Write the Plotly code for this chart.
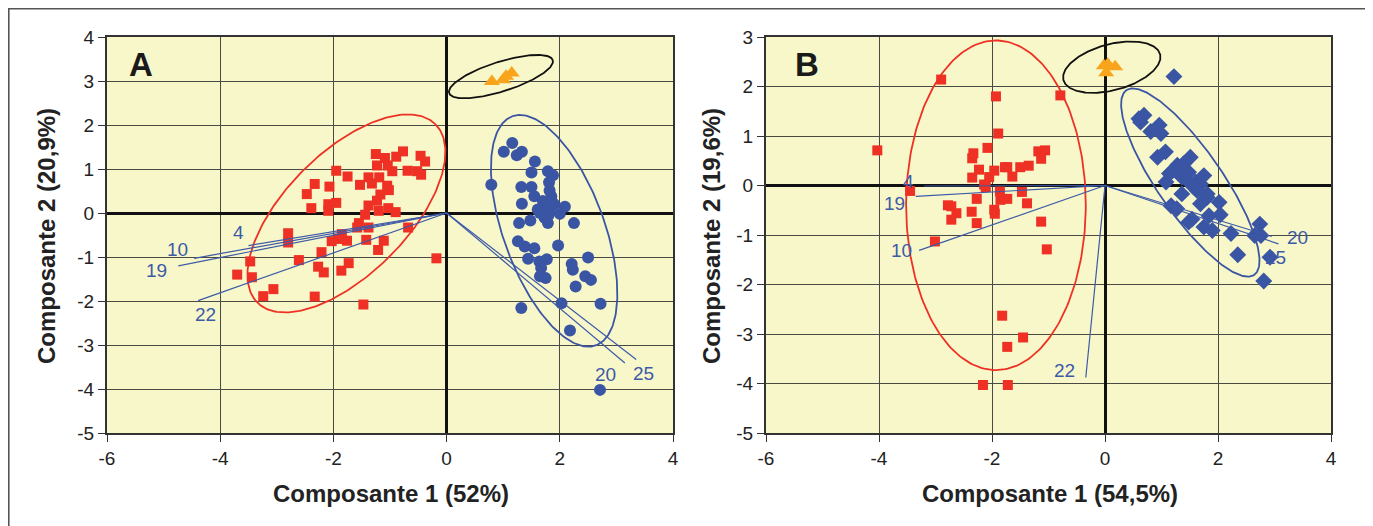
import numpy as np
import plotly.graph_objects as go

# ---------------- Panel A data ----------------
a_red_x = [-1.25, -1.09, -0.77, -0.89, -0.46, -0.38, -1.23, -1.04, -0.96, -0.69, -0.52, -0.45,
           -1.95, -1.75, -1.53, -1.38, -1.32, -1.19, -1.05, -1.02, -1.17, -1.23, -2.33, -2.07,
           -2.47, -2.39, -2.09, -2.09, -1.95, -1.38, -1.20, -1.03, -0.90, -1.44, -1.55, -1.38,
           -1.58, -0.68, -2.80, -2.80, -1.85, -2.03, -1.76, -1.91, -1.42, -1.11, -1.21, -2.21,
           -2.61, -3.47, -2.27, -2.17, -1.86, -1.73, -0.18, -3.70, -3.44, -3.06, -3.24, -2.33, -1.47]
a_red_y = [1.34, 1.25, 1.40, 1.28, 1.30, 1.17, 1.08, 1.08, 0.95, 0.96, 0.95, 0.87,
           0.96, 0.83, 0.64, 0.81, 0.67, 0.81, 0.62, 0.52, 0.42, 0.28, 0.66, 0.60,
           0.43, 0.11, 0.20, 0.05, 0.23, 0.17, 0.05, 0.11, 0.02, -0.04, -0.23, -0.33,
           -0.33, -0.33, -0.46, -0.67, -0.48, -0.64, -0.63, -0.59, -0.61, -0.63, -0.84, -0.89,
           -1.07, -1.10, -1.22, -1.35, -1.31, -1.14, -1.03, -1.40, -1.46, -1.73, -1.89, -1.90, -2.08]

a_blue_x = [1.16, 1.01, 1.24, 1.33, 1.56, 1.50, 1.79, 1.88, 1.81, 0.79, 1.32, 1.50, 1.82, 1.85,
            1.55, 1.33, 1.70, 2.09, 1.61, 1.82, 2.00, 1.73, 1.79, 1.48, 1.28, 2.25, 1.26, 1.38,
            1.55, 1.97, 1.44, 1.64, 1.77, 1.67, 1.65, 1.75, 2.21, 2.23, 2.50, 2.45, 2.55, 2.28,
            2.03, 2.72, 1.32, 2.18, 2.71, 1.75, 1.90, 1.65, 1.80, 1.85]
a_blue_y = [1.59, 1.39, 1.31, 1.39, 1.17, 0.92, 0.95, 0.86, 0.70, 0.64, 0.59, 0.59, 0.51, 0.38,
            0.38, 0.21, 0.27, 0.14, 0.08, 0.11, -0.02, -0.11, -0.23, -0.17, -0.23, -0.23, -0.64, -0.76,
            -0.80, -0.74, -1.04, -1.10, -1.05, -1.25, -1.44, -1.48, -1.16, -1.29, -1.01, -1.44, -1.52, -1.67,
            -2.05, -2.06, -2.16, -2.67, -4.02, 0.05, 0.20, 0.00, -0.05, 0.30]

a_orange_x = [0.80, 1.00, 1.05, 1.15]
a_orange_y = [2.99, 3.03, 3.11, 3.18]

a_load_names = ["4", "10", "19", "22", "20", "25"]
a_load_x = [-3.50, -4.46, -4.74, -4.39, 3.15, 3.35]
a_load_y = [-0.74, -1.03, -1.20, -1.99, -3.41, -3.33]
a_label_x = [-3.68, -4.75, -5.13, -4.26, 2.80, 3.48]
a_label_y = [-0.44, -0.84, -1.30, -2.30, -3.67, -3.64]

# ellipses: centre x, centre y, axis-1 vector (x, y), axis-2 vector (x, y)
a_ell_red = [-1.77, -0.01, 1.574, 2.025, -0.762, 0.980]
a_ell_blue = [1.90, -0.405, -0.737, 2.604, -0.839, -0.393]
a_ell_black = [0.96, 3.10, 0.916, 0.374, -0.079, 0.321]

# ---------------- Panel B data ----------------
b_red_x = [-2.90, -1.93, -0.79, -1.89, -4.03, -2.08, -2.33, -2.35, -1.18, -1.06, -1.13, -2.35,
           -2.23, -2.05, -1.96, -1.77, -1.73, -1.64, -1.50, -1.35, -2.14, -2.11, -1.86, -1.47,
           -3.45, -2.27, -1.85, -1.73, -1.38, -2.78, -2.72, -2.63, -2.72, -2.36, -1.96, -1.95,
           -2.27, -1.13, -3.01, -1.03, -1.82, -1.45, -1.73, -2.16, -1.72]
b_red_y = [2.14, 1.80, 1.82, 1.05, 0.71, 0.76, 0.65, 0.55, 0.69, 0.71, 0.54, 0.16,
           0.32, 0.17, 0.30, 0.37, 0.37, 0.18, 0.37, 0.40, 0.02, -0.03, -0.12, -0.13,
           -0.11, -0.27, -0.29, -0.27, -0.36, -0.40, -0.42, -0.56, -0.69, -0.53, -0.49, -0.57,
           -0.76, -0.73, -1.13, -1.29, -2.63, -3.07, -3.26, -4.03, -4.03]

b_blue_x = [1.22, 0.60, 0.69, 0.63, 0.81, 0.96, 0.99, 0.93, 1.07, 1.51, 1.28, 1.39, 1.20, 1.08,
            1.36, 1.48, 1.46, 1.60, 1.75, 1.69, 1.36, 1.63, 1.81, 1.69, 2.02, 1.17, 1.27, 1.84,
            2.04, 1.54, 1.48, 1.75, 1.90, 2.23, 2.74, 2.65, 2.76, 2.35, 2.92, 2.81, 1.33, 1.57,
            1.81, 1.14]
b_blue_y = [2.20, 1.35, 1.42, 1.28, 1.09, 1.22, 1.05, 0.57, 0.68, 0.57, 0.41, 0.44, 0.30, 0.07,
            0.17, 0.27, 0.10, 0.07, 0.20, 0.03, -0.17, -0.10, -0.17, -0.37, -0.34, -0.41, -0.47, -0.61,
            -0.59, -0.68, -0.74, -0.84, -0.91, -0.97, -0.78, -1.01, -1.01, -1.40, -1.45, -1.93, 0.37, -0.03,
            -0.24, 0.24]

b_orange_x = [-0.02, 0.05, 0.18, 0.02]
b_orange_y = [2.42, 2.45, 2.40, 2.28]

b_load_names = ["4", "19", "10", "22", "20", "25"]
b_load_x = [-3.20, -3.35, -3.29, -0.34, 2.95, 3.07]
b_load_y = [-0.01, -0.22, -1.31, -3.88, -1.03, -1.18]
b_label_x = [-3.48, -3.72, -3.60, -0.72, 3.40, 3.01]
b_label_y = [0.09, -0.36, -1.31, -3.74, -1.05, -1.45]

b_ell_red = [-1.93, -0.40, 1.59, 0.0, 0.0, 3.33]
b_ell_blue = [1.51, 0.06, -1.131, 1.865, -0.470, -0.371]
b_ell_black = [0.12, 2.39, 0.855, 0.261, -0.105, 0.449]

# ticks
x_tick_vals = [-6, -4, -2, 0, 2, 4]
x_tick_text = ["-6", "-4", "-2", "0", "2", "4"]
a_y_tick_vals = [-5, -4, -3, -2, -1, 0, 1, 2, 3, 4]
a_y_tick_text = ["-5", "-4", "-3", "-2", "-1", "0", "1", "2", "3", "4"]
b_y_tick_vals = [-5, -4, -3, -2, -1, 0, 1, 2, 3]
b_y_tick_text = ["-5", "-4", "-3", "-2", "-1", "0", "1", "2", "3"]

x_titles = ["<b>Composante 1 (52%)</b>", "<b>Composante 1 (54,5%)</b>"]
y_titles = ["<b>Composante 2 (20,9%)</b>", "<b>Composante 2 (19,6%)</b>"]
panel_letters = ["<b>A</b>", "<b>B</b>"]

# ---------------- styling ----------------
RED = "#EE3124"
BLUE = "#3A55A4"
ORANGE = "#F8A51B"
LINEBLUE = "#3D5AA8"
BG = "#F8F7C9"
FONT = "Liberation Sans, Arial, sans-serif"

W, H = 1373, 526
OFF = 8  # page body margin in the browser


def px(v):
    return (v - OFF) / W


def py(v):
    return 1 - (v - OFF) / H


fig = go.Figure()


def ellipse(spec, color, xa, ya):
    cx, cy, ux, uy, vx, vy = spec
    t = np.linspace(0, 2 * np.pi, 241)
    fig.add_trace(go.Scatter(x=cx + np.cos(t) * ux + np.sin(t) * vx,
                             y=cy + np.cos(t) * uy + np.sin(t) * vy,
                             mode="lines", line=dict(color=color, width=1.8),
                             xaxis=xa, yaxis=ya, hoverinfo="skip", showlegend=False))


def panel(xa, ya, rx, ry, rsym, rsize, bx, by, bsym, bsize, ox, oy, ells, lx, ly, names, tx, ty):
    fig.add_trace(go.Scatter(x=rx, y=ry, mode="markers", xaxis=xa, yaxis=ya, showlegend=False,
                             marker=dict(symbol=rsym, size=rsize, color=RED, line=dict(width=0))))
    fig.add_trace(go.Scatter(x=bx, y=by, mode="markers", xaxis=xa, yaxis=ya, showlegend=False,
                             marker=dict(symbol=bsym, size=bsize, color=BLUE, line=dict(width=0))))
    fig.add_trace(go.Scatter(x=ox, y=oy, mode="markers", xaxis=xa, yaxis=ya, showlegend=False,
                             marker=dict(symbol="triangle-up", size=14, color=ORANGE, line=dict(width=0))))
    for spec, col in zip(ells, [RED, BLUE, "#111111"]):
        ellipse(spec, col, xa, ya)
    for ex, ey in zip(lx, ly):
        fig.add_trace(go.Scatter(x=[0, ex], y=[0, ey], mode="lines", xaxis=xa, yaxis=ya,
                                 line=dict(color=LINEBLUE, width=1.2), showlegend=False,
                                 hoverinfo="skip"))
    for n, x, y in zip(names, tx, ty):
        fig.add_annotation(x=x, y=y, xref=xa, yref=ya, text=n, showarrow=False,
                           xanchor="center", yanchor="middle",
                           font=dict(family=FONT, size=19, color=LINEBLUE))


panel("x", "y", a_red_x, a_red_y, "square", 10, a_blue_x, a_blue_y, "circle", 12,
      a_orange_x, a_orange_y, [a_ell_red, a_ell_blue, a_ell_black],
      a_load_x, a_load_y, a_load_names, a_label_x, a_label_y)
panel("x2", "y2", b_red_x, b_red_y, "square", 10, b_blue_x, b_blue_y, "diamond", 13,
      b_orange_x, b_orange_y, [b_ell_red, b_ell_blue, b_ell_black],
      b_load_x, b_load_y, b_load_names, b_label_x, b_label_y)

axis_common = dict(showgrid=True, gridcolor="#4a4a44", gridwidth=1.1,
                   zeroline=True, zerolinecolor="#111111", zerolinewidth=2.6,
                   showline=True, mirror=True, linecolor="#333333", linewidth=2,
                   ticks="outside", ticklen=7, tickcolor="#333333", tickwidth=1.2,
                   tickfont=dict(family=FONT, size=19, color="#222222"),
                   tickmode="array", automargin=False, fixedrange=True)

ydom = [py(433), py(37)]
fig.update_layout(
    width=W, height=H, margin=dict(l=0, r=0, t=0, b=0, pad=0, autoexpand=False),
    paper_bgcolor="white", plot_bgcolor=BG, showlegend=False,
    xaxis=dict(domain=[px(107), px(673)], range=[-6, 4], anchor="y",
               tickvals=x_tick_vals, ticktext=x_tick_text, **axis_common),
    yaxis=dict(domain=ydom, range=[-5, 4], anchor="x",
               tickvals=a_y_tick_vals, ticktext=a_y_tick_text, **axis_common),
    xaxis2=dict(domain=[px(766), px(1331)], range=[-6, 4], anchor="y2",
                tickvals=x_tick_vals, ticktext=x_tick_text, **axis_common),
    yaxis2=dict(domain=ydom, range=[-5, 3], anchor="x2",
                tickvals=b_y_tick_vals, ticktext=b_y_tick_text, **axis_common),
)

# axis titles and panel letters
for i, (cx, ycx) in enumerate([(391, 47), (1050, 712)]):
    fig.add_annotation(x=px(cx), y=py(493), xref="paper", yref="paper", text=x_titles[i],
                       xanchor="center", yanchor="middle",
                       showarrow=False, font=dict(family=FONT, size=24, color="#222222"))
    fig.add_annotation(x=px(ycx), y=py(236), xref="paper", yref="paper", text=y_titles[i],
                       xanchor="center", yanchor="middle", textangle=-90, showarrow=False,
                       font=dict(family=FONT, size=24, color="#222222"))
for letter, lx in zip(panel_letters, [141, 807]):
    fig.add_annotation(x=px(lx), y=py(64), xref="paper", yref="paper", text=letter,
                       xanchor="center", yanchor="middle",
                       showarrow=False, font=dict(family=FONT, size=33, color="#1a1a1a"))

# outer frame
fig.add_shape(type="rect", xref="paper", yref="paper", x0=0.6 / W, x1=px(1366),
              y0=-0.05, y1=1 - 0.6 / H, line=dict(color="#555555", width=2), layer="below")

fig.write_html("out.html")
